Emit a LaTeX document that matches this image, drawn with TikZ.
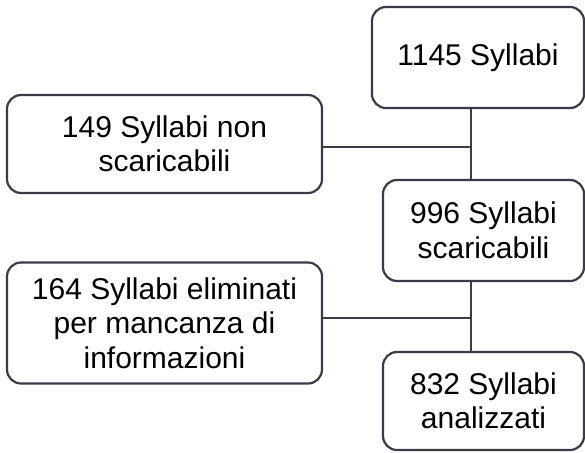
\documentclass[tikz,border=0pt]{standalone}
\usepackage{fontspec}
\setmainfont{Liberation Sans}
\usetikzlibrary{positioning,calc}
\definecolor{boxline}{RGB}{58,58,72}
\tikzset{
  stepbox/.style={draw=boxline, line width=2.2pt, rounded corners=14pt, align=center,
    inner sep=0pt, font=\fontsize{30}{34.5}\selectfont},
  link/.style={draw=boxline, line width=2.2pt}
}

\begin{document}
\begin{tikzpicture}[x=1pt, y=-1pt]
		\useasboundingbox (0,0) rectangle (585,452);
		% main column
		\node[stepbox, minimum width=212pt, minimum height=101pt] (total)    at (478,57.5)   {1145 Syllabi};
		\node[stepbox, minimum width=201pt, minimum height=101pt] (scar)     at (483.5,230.5) {996 Syllabi\\scaricabili};
		\node[stepbox, minimum width=201pt, minimum height=98pt]  (analiz)   at (483.5,401)   {832 Syllabi\\analizzati};
		% excluded on the left
		\node[stepbox, minimum width=315pt, minimum height=98pt]  (nonscar)  at (164.5,144)   {149 Syllabi non\\scaricabili};
		\node[stepbox, minimum width=315pt, minimum height=121pt] (elim)     at (164.5,323)   {164 Syllabi eliminati\\per mancanza di\\informazioni};

		\coordinate (j1) at (471,147);
		\coordinate (j2) at (471,318);

		\draw[link] (total.south -| j1) -- (scar.north -| j1);
		\draw[link] (nonscar.east |- j1) -- (j1);
		\draw[link] (scar.south -| j2) -- (analiz.north -| j2);
		\draw[link] (elim.east |- j2) -- (j2);
	\end{tikzpicture}
\end{document}
